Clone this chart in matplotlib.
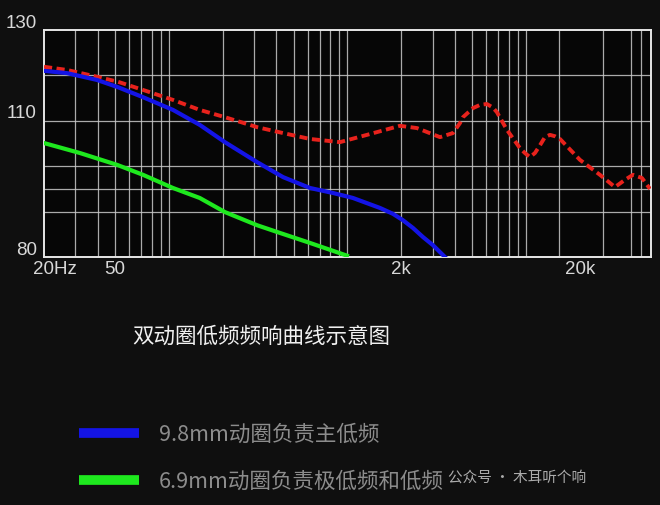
import numpy as np
import matplotlib
matplotlib.use("Agg")
import matplotlib.pyplot as plt
from matplotlib.lines import Line2D
from matplotlib import transforms

# ---------------------------------------------------------------------------
# data
# ---------------------------------------------------------------------------
red_f = [20, 26.9, 39.6, 51.9, 71.7, 105.5, 149, 206, 312, 436, 617, 908, 1286,
         1968, 2450, 3298, 3900, 4268, 4436, 5050, 5520, 6040, 6530, 6870, 7820,
         9240, 9860, 10520, 11220, 11970, 12760, 13620, 14520, 15490, 20040, 25940,
         31480, 35820, 39700, 44600, 49460]
red_db = [121.9, 121.2, 119.7, 118.6, 116.8, 114.6, 112.4, 110.8, 108.6, 107.3, 106.0,
          105.3, 106.9, 108.9, 108.4, 106.4, 107.3, 109.5, 110.8, 112.8, 113.5, 113.7,
          112.9, 111.9, 108.0, 104.0, 102.9, 102.0, 102.9, 104.6, 106.4, 106.9, 106.6,
          106.0, 101.4, 98.1, 95.4, 97.0, 98.1, 97.4, 95.0]

blue_f = [20, 26.9, 39.6, 51.9, 71.7, 105.5, 149, 206, 312, 436, 617, 830, 1074,
          1522, 1800, 2046, 2328, 2648, 3014, 3516]
blue_db = [121.0, 120.5, 119.0, 117.4, 115.2, 112.4, 109.1, 105.3, 100.9, 97.6, 95.2,
           94.1, 93.0, 90.8, 89.5, 88.1, 86.4, 84.4, 82.6, 80.0]

green_f = [20, 31.8, 51.3, 71.7, 105.5, 149, 206, 312, 419, 617, 994]
green_db = [105.1, 102.9, 100.3, 98.1, 95.2, 93.0, 89.9, 87.0, 85.3, 83.1, 80.3]

x_grid = [30, 40, 50, 60, 70, 80, 90, 100, 200, 300, 400, 500, 600, 700, 800, 900,
          1000, 2000, 3000, 4000, 5000, 6000, 7000, 8000, 9000, 10000, 15300, 27000,
          38700, 44000]
y_grid = [90, 95, 100, 110, 120]

x_labels = ["20Hz", "50", "2k", "20k"]
x_label_pos = [20, 50, 2000, 20000]
y_labels = ["130", "110", "80"]
y_label_pos = [130, 110, 80]

title = "双动圈低频频响曲线示意图"
legend_labels = ["9.8mm动圈负责主低频", "6.9mm动圈负责极低频和低频"]

# ---------------------------------------------------------------------------
# style
# ---------------------------------------------------------------------------
BG = "#0f0f0f"
GRID = "#c8c8c8"
RED = "#e8221c"
BLUE = "#1414e6"
GREEN = "#1ee81e"
cjk = ["Noto Sans CJK SC", "DejaVu Sans"]
num = ["Liberation Sans", "DejaVu Sans"]

fig = plt.figure(figsize=(6.6, 5.05), dpi=100, facecolor=BG)
ax = fig.add_axes([44 / 660, 1 - 257 / 505, (651 - 44) / 660, (257 - 30) / 505])
ax.set_facecolor("#060606")

ax.plot(red_f, red_db, color=RED, lw=2.8, ls=(0, (2.1, 1.15)), zorder=3)
ax.plot(blue_f, blue_db, color=BLUE, lw=3.0, zorder=3)
ax.plot(green_f, green_db, color=GREEN, lw=3.0, zorder=3)

ax.set_xscale("log")
ax.set_xlim(20, 50100)
ax.set_ylim(80, 130)

ax.set_xticks(x_grid, minor=True)
ax.set_xticks([])
ax.set_yticks(y_grid)
ax.grid(which="both", color=GRID, lw=0.9, alpha=0.85, zorder=1)
ax.tick_params(which="both", length=0, labelbottom=False, labelleft=False)
for s in ax.spines.values():
    s.set_color("#e6e6e6")
    s.set_linewidth(1.4)

# y labels sit a little above their grid line
ytr = transforms.offset_copy(ax.get_yaxis_transform(), fig=fig, x=-7, y=7, units="dots")
for lab, v in zip(y_labels, y_label_pos):
    ax.text(0, v, lab, transform=ytr, ha="right", va="center", color="#d8d8d8",
            fontsize=13.5, family=num)

# x labels
shifts = [11, 0, 0, 0]
for lab, v, dx in zip(x_labels, x_label_pos, shifts):
    xtr = transforms.offset_copy(ax.get_xaxis_transform(), fig=fig, x=dx, y=-13, units="dots")
    ax.text(v, 0, lab, transform=xtr, ha="center", va="center", color="#d8d8d8",
            fontsize=13.5, family=num)

fig.text(261 / 660, 1 - 337 / 505, title, ha="center", va="center", color="#f0f0f0",
         fontsize=15.5, family=cjk)

handles = [Line2D([], [], color=BLUE, lw=7, solid_capstyle="butt"),
           Line2D([], [], color=GREEN, lw=7, solid_capstyle="butt")]
leg = fig.legend(handles, legend_labels, loc="center left",
                 bbox_to_anchor=(79 / 660, 1 - 458 / 505), frameon=False,
                 handlelength=2.8, handletextpad=0.9, labelspacing=1.17,
                 borderpad=0, borderaxespad=0, labelcolor="#8c8c8c",
                 prop={"family": cjk, "size": 15.5})

# watermark
fig.text(448 / 660, 1 - 478 / 505, "公众号 · 木耳听个响", ha="left", va="center",
         color="#e0e0e0", alpha=0.75, fontsize=10.5, family=cjk)

fig.savefig("out.png", dpi=100, facecolor=BG)
